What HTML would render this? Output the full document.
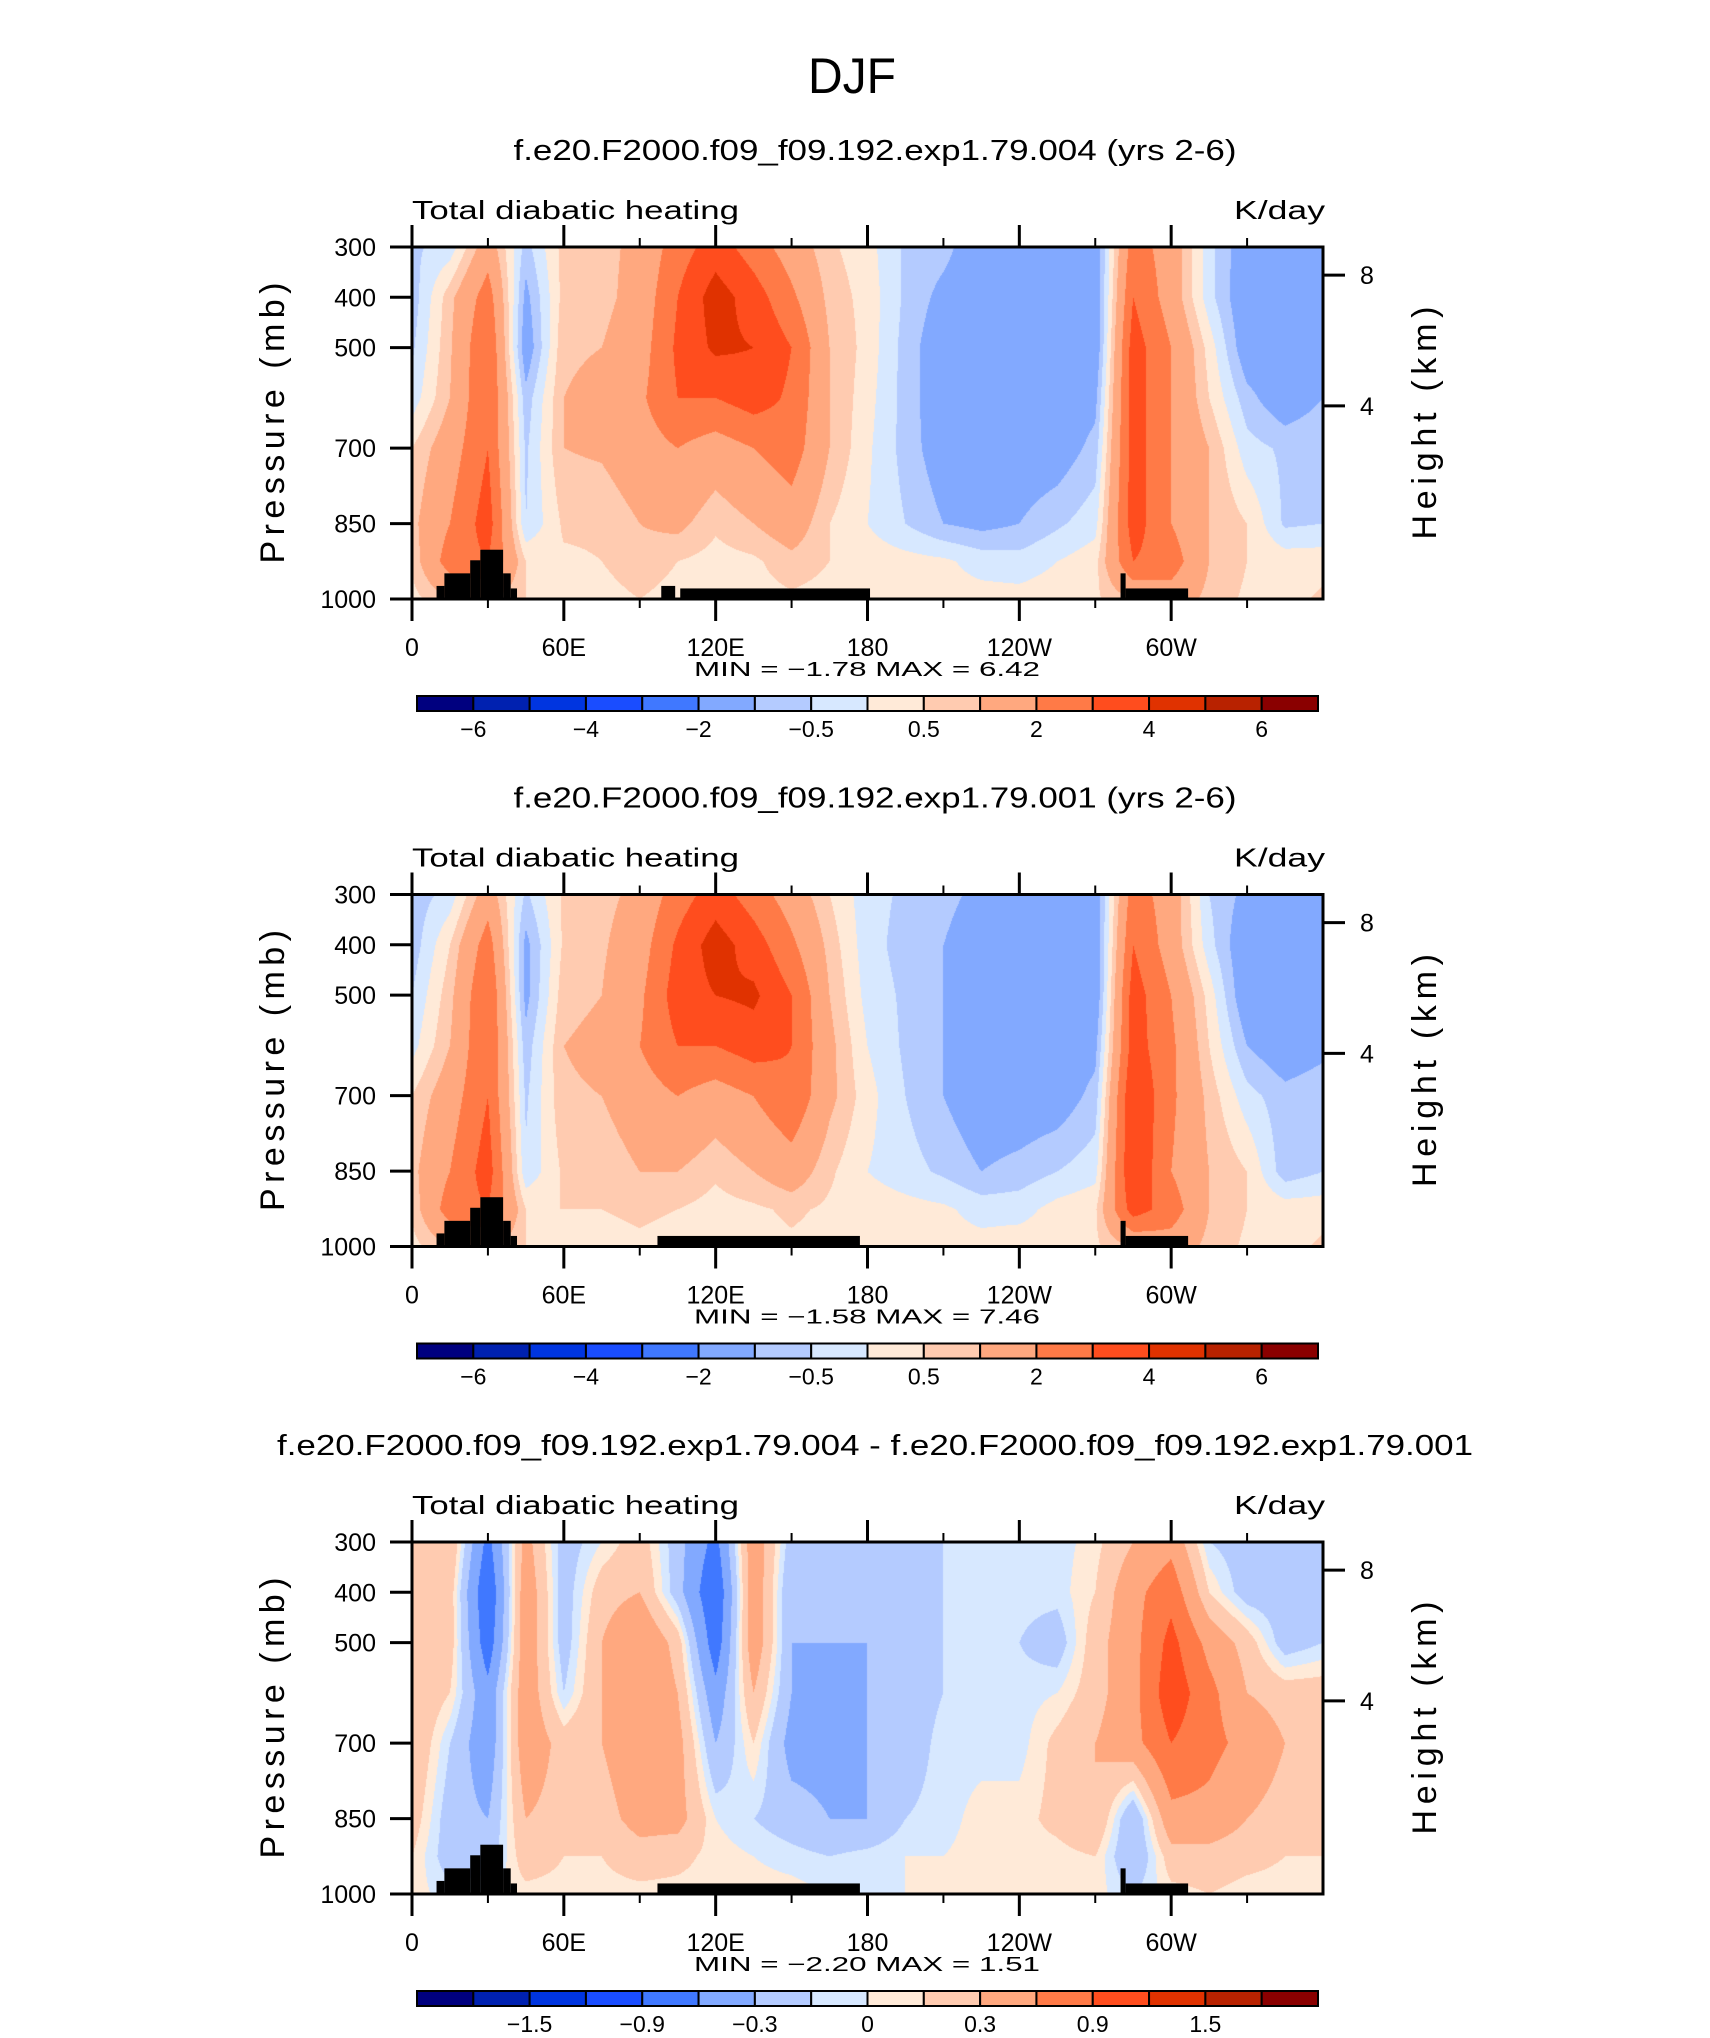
<!DOCTYPE html>
<html><head><meta charset="utf-8">
<style>
html,body{margin:0;padding:0;background:#fff;}
#wrap{position:relative;width:1710px;height:2038px;overflow:hidden;background:#fff;}
canvas{position:absolute;}
svg{position:absolute;left:0;top:0;}
</style></head>
<body>
<div id="wrap">
<svg id="ov" width="1710" height="2038"></svg>
</div>
<script>
// ---- data ----
const lons = [0,15,30,45,60,75,90,105,120,135,150,165,180,195,210,225,240,255,270,285,300,315,330,345,360];
const plevs = [300,400,500,600,700,850,925,1000];
const field1 = [
[-0.6,-0.3,1.5,-0.7,0.7,0.8,1.2,2.5,3.5,2.5,1.5,0.6,0.2,-0.6,-0.8,-1.5,-1.5,-1.5,-1.5,2.5,1.5,-0.3,-1.5,-1.5,-1.5],
[-0.8,0.8,2.5,-1.2,0.7,0.8,1.3,3.0,4.5,3.5,2.2,0.8,0.3,-0.6,-1.2,-1.6,-1.6,-1.6,-1.6,3.0,1.5,-0.3,-1.6,-1.6,-1.6],
[-0.6,0.9,3.0,-1.5,0.9,1.0,1.5,3.2,4.2,4.0,3.0,1.0,0.3,-0.7,-1.5,-1.6,-1.6,-1.6,-1.6,3.5,2.0,0.3,-1.5,-1.6,-1.6],
[-0.3,1.0,3.0,-0.8,1.0,1.2,1.8,3.0,3.0,3.5,2.8,1.0,0.2,-0.7,-1.5,-1.6,-1.6,-1.6,-1.2,3.5,2.0,0.5,-0.8,-1.5,-1.0],
[0.5,1.5,3.0,-0.6,1.0,1.1,1.5,2.0,1.5,2.0,2.5,1.0,0.1,-0.7,-1.4,-1.5,-1.5,-1.4,-0.8,3.5,2.0,1.0,-0.3,-0.6,-0.5],
[0.8,2.0,3.5,-0.5,0.6,0.6,1.0,1.2,0.6,1.0,1.5,0.5,0.0,-0.5,-1.0,-1.2,-1.0,-0.6,-0.2,3.5,2.0,1.0,0.5,-0.6,-0.5],
[0.6,2.5,3.0,0.5,0.4,0.5,0.8,0.5,0.3,0.4,0.8,0.5,0.3,0.2,0.1,-0.2,-0.3,0.0,0.3,3.0,2.5,1.0,0.5,0.3,0.3],
[0.3,1.0,1.0,0.5,0.3,0.3,0.5,0.3,0.3,0.3,0.4,0.3,0.3,0.2,0.2,0.2,0.2,0.3,0.4,1.0,1.5,0.8,0.4,0.3,0.6]];
const field2 = [
[-0.8,-0.3,1.5,-0.6,0.6,0.8,1.2,2.5,3.5,2.5,1.5,0.5,-0.3,-0.6,-0.8,-1.2,-1.5,-1.5,-1.5,2.5,1.5,-0.5,-1.2,-1.5,-1.5],
[-0.8,0.5,2.5,-1.2,0.6,0.9,1.5,3.2,4.5,3.5,2.2,0.8,-0.3,-0.7,-1.0,-1.5,-1.6,-1.6,-1.6,3.0,1.5,-0.3,-1.6,-1.6,-1.6],
[-0.5,0.8,3.0,-1.2,0.8,1.0,1.8,3.5,4.0,4.2,3.0,1.0,-0.2,-0.6,-1.0,-1.6,-1.6,-1.6,-1.6,3.5,2.0,0.3,-1.6,-1.6,-1.6],
[-0.2,1.0,3.0,-0.8,1.0,1.2,2.0,3.0,3.0,3.5,3.0,1.2,0.0,-0.6,-1.0,-1.5,-1.6,-1.6,-1.2,3.5,2.2,0.5,-1.0,-1.5,-1.2],
[0.5,1.5,3.0,-0.6,0.9,1.0,1.5,2.0,1.5,2.0,2.8,1.2,0.2,-0.5,-1.0,-1.5,-1.5,-1.4,-0.8,4.0,2.2,0.8,-0.3,-0.8,-0.6],
[0.8,2.0,3.5,-0.4,0.6,0.6,1.0,1.0,0.6,1.0,1.5,0.6,0.0,-0.3,-0.6,-1.0,-0.8,-0.5,-0.2,4.0,2.0,1.0,0.5,-0.8,-0.5],
[0.6,2.5,3.0,0.5,0.5,0.5,0.6,0.5,0.3,0.4,0.6,0.4,0.3,0.2,0.1,-0.2,-0.2,0.2,0.4,3.5,2.5,1.0,0.5,0.3,0.3],
[0.3,1.0,1.0,0.5,0.3,0.3,0.4,0.3,0.3,0.3,0.4,0.3,0.3,0.3,0.2,0.2,0.3,0.3,0.4,1.0,1.5,0.8,0.4,0.3,0.6]];
const field3 = [
[0.2,0.3,-0.7,0.4,-0.2,0.0,0.2,-0.2,-0.7,0.5,-0.2,-0.2,-0.3,-0.2,-0.1,-0.05,-0.05,-0.05,0.05,0.3,0.5,-0.1,-0.2,-0.2,-0.2],
[0.2,0.2,-0.9,0.5,-0.2,0.2,0.3,-0.2,-0.9,0.5,-0.3,-0.3,-0.3,-0.2,-0.1,-0.05,-0.05,-0.05,0.1,0.5,0.8,0.1,-0.2,-0.2,-0.2],
[0.3,0.2,-0.8,0.5,-0.2,0.3,0.6,0.2,-0.8,0.5,-0.3,-0.3,-0.3,-0.2,-0.1,-0.05,-0.1,-0.2,0.2,0.5,1.0,0.5,0.2,-0.2,-0.1],
[0.3,0.1,-0.5,0.5,-0.1,0.3,0.6,0.3,-0.5,0.3,-0.3,-0.4,-0.3,-0.2,-0.1,-0.05,-0.05,0.0,0.2,0.5,1.1,0.7,0.3,0.2,0.2],
[0.3,-0.1,-0.5,0.5,0.2,0.3,0.5,0.4,-0.3,0.1,-0.4,-0.4,-0.3,-0.2,-0.05,-0.05,-0.05,0.15,0.3,0.5,0.9,0.7,0.5,0.3,0.3],
[0.2,-0.2,-0.3,0.3,0.2,0.2,0.4,0.4,0.0,-0.1,-0.2,-0.3,-0.3,-0.1,-0.05,0.05,0.05,0.15,0.3,-0.3,0.5,0.5,0.3,0.2,0.2],
[0.1,-0.2,-0.2,0.2,0.1,0.1,0.2,0.15,0.05,0.0,-0.05,-0.1,-0.05,0.0,0.0,0.05,0.05,0.05,0.1,-0.3,0.2,0.2,0.15,0.1,0.1],
[0.05,-0.05,0.0,0.05,0.05,0.05,0.05,0.05,0.05,0.05,0.05,0.0,0.0,0.0,0.0,0.05,0.05,0.05,0.05,-0.1,0.05,0.1,0.05,0.05,0.05]];
const levelsFull = [-6,-5,-4,-3,-2,-1,-0.5,0,0.5,1,2,3,4,5,6];
const levelsDiff = [-1.8,-1.5,-1.2,-0.9,-0.6,-0.3,-0.1,0,0.1,0.3,0.6,0.9,1.2,1.5,1.8];
const labelsFull = ["−6","−4","−2","−0.5","0.5","2","4","6"];
const labelsDiff = ["−1.5","−0.9","−0.3","0","0.3","0.9","1.5"];
const terrain1 = [[9.7,12.8,974],[12.8,23,949],[23,27,923],[27,36,902],[36,39,949],[39,41.5,979],[98.5,104,974],[106,181,979],[280,282,949],[282,306.7,979]];
const terrain2 = [[9.7,12.8,974],[12.8,23,949],[23,27,923],[27,36,902],[36,39,949],[39,41.5,979],[97,177,979],[280,282,949],[282,306.7,979]];
const lonTickLabels = ["0","60E","120E","180","120W","60W"];
const presTicks = [300,400,500,700,850,1000];
const heightTicks = [[8,356],[4,616]];
const colors = ["#00007f","#0021b0","#0035e0","#1a4dff","#4078ff","#82a9ff","#b4cbff","#d7e8ff","#ffead8","#ffcbb0","#ffa87f","#ff7a47","#ff4d1e","#e03200","#b82200","#8a0000"];

const L = 412, R = 1323, PW = R - L, PH = 352;
const panels = [
 {top:247, field:field1, levels:levelsFull, labels:labelsFull, labIdx:[0,2,4,6,8,10,12,14], terrain:terrain1, title:"f.e20.F2000.f09_f09.192.exp1.79.004 (yrs 2-6)", tlen:723, minmax:["−1.78","6.42"]},
 {top:894.5, field:field2, levels:levelsFull, labels:labelsFull, labIdx:[0,2,4,6,8,10,12,14], terrain:terrain2, title:"f.e20.F2000.f09_f09.192.exp1.79.001 (yrs 2-6)", tlen:723, minmax:["−1.58","7.46"]},
 {top:1542, field:field3, levels:levelsDiff, labels:labelsDiff, labIdx:[1,3,5,7,9,11,13], terrain:terrain2, title:"f.e20.F2000.f09_f09.192.exp1.79.004 - f.e20.F2000.f09_f09.192.exp1.79.001", tlen:1196, minmax:["−2.20","1.51"]}
];
function xOf(lon){return L + lon/360*PW;}
function yOf(p,top){return top + (p-300)/700*PH;}
function colorIdx(v,lev){v+=1e-7;let i=0;while(i<lev.length && v>=lev[i])i++;return i;}
function sample(f,lon,p){
  let j=Math.min(lons.length-2,Math.max(0,Math.floor(lon/15)));
  let tx=(lon-lons[j])/15;
  let i=0;while(i<plevs.length-2 && p>plevs[i+1])i++;
  let ty=(p-plevs[i])/(plevs[i+1]-plevs[i]);ty=Math.max(0,Math.min(1,ty));
  const a=f[i][j]*(1-tx)+f[i][j+1]*tx, b=f[i+1][j]*(1-tx)+f[i+1][j+1]*tx;
  return a*(1-ty)+b*ty;
}
const rgb=colors.map(c=>[parseInt(c.slice(1,3),16),parseInt(c.slice(3,5),16),parseInt(c.slice(5,7),16)]);
const NS="http://www.w3.org/2000/svg";
const ov=document.getElementById('ov');
const wrap=document.getElementById('wrap');
function el(tag,attrs,parent,txt){const e=document.createElementNS(NS,tag);for(const k in attrs)e.setAttribute(k,attrs[k]);if(txt!==undefined)e.textContent=txt;(parent||ov).appendChild(e);return e;}
const FONT='"Liberation Sans", sans-serif';

let t=el('text',{x:852,y:93,'font-family':FONT,'font-size':50,'text-anchor':'middle',fill:'#000',textLength:88,lengthAdjust:'spacingAndGlyphs'},ov,"DJF");



panels.forEach((P,pi)=>{
  const g=el('g',{});
  
  
  const cv=document.createElement('canvas');
  cv.width=PW;cv.height=Math.round(PH);
  cv.style.left=L+'px';cv.style.top=P.top+'px';
  
  
  wrap.insertBefore(cv,ov);
  const ctx=cv.getContext('2d');const img=ctx.createImageData(cv.width,cv.height);
  for(let y=0;y<cv.height;y++){const p=300+(y+0.5)/PH*700;
    for(let x=0;x<cv.width;x++){const lon=(x+0.5)/PW*360;
      const c=rgb[colorIdx(sample(P.field,lon,p),P.levels)];
      const k=(y*cv.width+x)*4;img.data[k]=c[0];img.data[k+1]=c[1];img.data[k+2]=c[2];img.data[k+3]=255;}}
  ctx.putImageData(img,0,0);
  P.terrain.forEach(s=>{
    const r=el('rect',{x:xOf(s[0]),y:yOf(s[2],P.top),width:xOf(s[1])-xOf(s[0]),height:yOf(1000,P.top)-yOf(s[2],P.top),fill:'#000'},g);
    
    
  });
  const fr=el('rect',{x:L,y:P.top,width:PW,height:PH,fill:'none',stroke:'#000','stroke-width':3},g);
  
  
  const bot=P.top+PH;
  for(let k=0;k<12;k++){const lon=k*30,x=xOf(lon),maj=k%2===0;const len=maj?22:9;
    el('line',{x1:x,y1:bot,x2:x,y2:bot+len,stroke:'#000','stroke-width':maj?3:2},g);
    el('line',{x1:x,y1:P.top,x2:x,y2:P.top-len,stroke:'#000','stroke-width':maj?3:2},g);}
  lonTickLabels.forEach((s,k)=>{const tt=el('text',{x:xOf(k*60),y:bot+57,'font-family':FONT,'font-size':25,'text-anchor':'middle'},g,s);
    
    });
  presTicks.forEach(p=>{const y=yOf(p,P.top);
    el('line',{x1:L-22,y1:y,x2:L,y2:y,stroke:'#000','stroke-width':3},g);
    const tt=el('text',{x:376,y:y+9,'font-family':FONT,'font-size':25,'text-anchor':'end'},g,String(p));
    
    });
  heightTicks.forEach(h=>{const y=yOf(h[1],P.top);
    el('line',{x1:R,y1:y,x2:R+22,y2:y,stroke:'#000','stroke-width':3},g);
    const tt=el('text',{x:1360,y:y+9,'font-family':FONT,'font-size':25},g,String(h[0]));
    
    });
  const cy=P.top+PH/2;
  const yl=el('text',{x:0,y:0,'font-family':FONT,'font-size':34,'text-anchor':'middle',transform:`translate(284,${cy}) rotate(-90)`,textLength:281,lengthAdjust:'spacing'},g,"Pressure (mb)");
  
  
  const yr=el('text',{x:0,y:0,'font-family':FONT,'font-size':34,'text-anchor':'middle',transform:`translate(1436,${cy}) rotate(-90)`,textLength:233,lengthAdjust:'spacing'},g,"Height (km)");
  
  
  const ti=el('text',{x:875,y:P.top-87,'font-family':FONT,'font-size':29,'text-anchor':'middle',textLength:P.tlen,lengthAdjust:'spacingAndGlyphs'},g,P.title);
  
  
  const st=el('text',{x:L,y:P.top-28,'font-family':FONT,'font-size':26,textLength:327,lengthAdjust:'spacingAndGlyphs'},g,"Total diabatic heating");
  
  
  const un=el('text',{x:R+2,y:P.top-28,'font-family':FONT,'font-size':26,'text-anchor':'end',textLength:91,lengthAdjust:'spacingAndGlyphs'},g,"K/day");
  
  
  const mm=el('text',{x:867,y:bot+77,'font-family':FONT,'font-size':20,'text-anchor':'middle','xml:space':'preserve',textLength:346,lengthAdjust:'spacingAndGlyphs'},g,"MIN =   "+P.minmax[0]+"   MAX =    "+P.minmax[1]);
  
  
  const cbL=417,cbR=1318,cbT=bot+97,cbH=15,bw=(cbR-cbL)/16;
  colors.forEach((c,k)=>{const r=el('rect',{x:cbL+k*bw,y:cbT,width:bw,height:cbH,fill:c,stroke:'#000','stroke-width':2},g);
    
    });
  P.labIdx.forEach((bi,k)=>{const tt=el('text',{x:cbL+(bi+1)*bw,y:cbT+cbH+26,'font-family':FONT,'font-size':23,'text-anchor':'middle'},g,P.labels[k]);
    
    });
});
</script>
</body></html>
